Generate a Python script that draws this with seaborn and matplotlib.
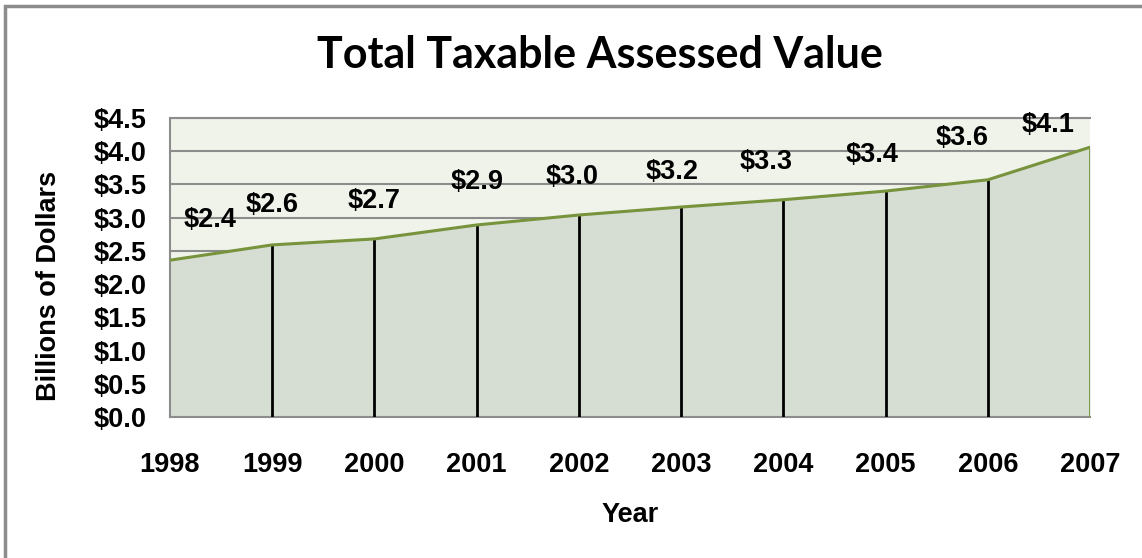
import matplotlib
matplotlib.use("Agg")
import matplotlib.pyplot as plt
import matplotlib.patches as mpatches
import seaborn as sns
import pandas as pd

# Total taxable assessed value, billions of dollars
years = [1998, 1999, 2000, 2001, 2002, 2003, 2004, 2005, 2006, 2007]
values = [2.36, 2.59, 2.68, 2.89, 3.04, 3.16, 3.27, 3.40, 3.57, 4.06]
y_ticks = [0.0, 0.5, 1.0, 1.5, 2.0, 2.5, 3.0, 3.5, 4.0, 4.5]

df = pd.DataFrame({"Year": years, "Value": values})

sns.set_theme(style="white")
plt.rcParams["font.family"] = ["Liberation Sans", "DejaVu Sans"]

fig = plt.figure(figsize=(11.42, 5.58), dpi=100)
ax = fig.add_axes([170 / 1142, 1 - 417 / 558, 920 / 1142, 299 / 558])

line_color = "#77933C"
ax.set_facecolor("#EFF3EA")

# horizontal gridlines
for t in y_ticks[1:]:
    ax.axhline(t, color="#8C8C8C", lw=1.5, zorder=1)

# filled area under the series
ax.fill_between(df["Year"], df["Value"], 0, color="#D6DED4", zorder=2, lw=0)
ax.vlines(df["Year"][1:-1], 0, df["Value"][1:-1], color="black", lw=2, zorder=3)
ax.vlines(df["Year"].iloc[-1], 0, df["Value"].iloc[-1], color=line_color, lw=2, zorder=3)
sns.lineplot(data=df, x="Year", y="Value", color=line_color, lw=2.2, ax=ax, zorder=4)

# value labels (offsets in pixels)
label_dx = [40, 0, 0, 0, -7, -9, -17, -14, -26, -42]
label_dy = [40, 40, 38, 43, 38, 35, 38, 36, 42, 22]
for x, v, dx, dy in zip(years, values, label_dx, label_dy):
    ax.annotate(f"${v:.1f}", (x, v), xytext=(dx * 0.72, dy * 0.72),
                textcoords="offset points", ha="center", va="center",
                fontsize=19.5, fontweight="bold", color="black", zorder=5,
                annotation_clip=False)

ax.set_xlim(1998, 2007)
ax.set_ylim(0, 4.5)
ax.set_xticks(years)
ax.set_xticklabels([str(y) for y in years])
ax.set_yticks(y_ticks)
ax.set_yticklabels([f"${t:.1f}" for t in y_ticks])
ax.tick_params(axis="x", length=0, pad=25, labelsize=19.5)
ax.tick_params(axis="y", length=0, pad=17, labelsize=19.5)
for lab in ax.get_xticklabels() + ax.get_yticklabels():
    lab.set_fontweight("bold")
    lab.set_color("black")

ax.set_xlabel("Year", fontsize=19.5, fontweight="bold", color="black")
ax.set_ylabel("Billions of Dollars", fontsize=19.5, fontweight="bold", color="black")
ax.xaxis.set_label_coords(0.5, -0.285)
ax.yaxis.set_label_coords(-0.1175, 0.44)

for side in ["left", "bottom", "top", "right"]:
    ax.spines[side].set_visible(True)
    ax.spines[side].set_color("#8C8C8C")
    ax.spines[side].set_linewidth(1.5)
ax.spines["right"].set_visible(False)

fig.text(600 / 1142, 1 - 55 / 558, "Total Taxable Assessed Value",
         ha="center", va="center", fontsize=31, fontweight="bold",
         family=["Lato", "DejaVu Sans"], color="black")

# chart frame
fig.patches.append(mpatches.Rectangle((5 / 1142, -0.1), 1.2, 1 - 6 / 558 + 0.1,
                                      transform=fig.transFigure, fill=False,
                                      edgecolor="#8C8C8C", lw=2.5))

fig.savefig("out.png", dpi=100)
